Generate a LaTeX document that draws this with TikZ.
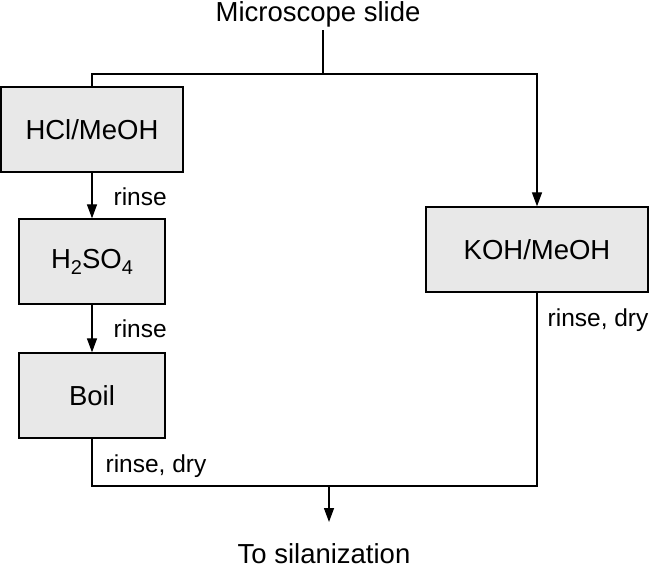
\documentclass[tikz,border=0pt]{standalone}
\usepackage{fontspec}
\setmainfont{Liberation Sans}
\usepackage{tikz}
\usetikzlibrary{arrows.meta}
\definecolor{boxgray}{gray}{0.91}
\newcommand{\chemsub}[1]{\raisebox{-6pt}{\fontsize{20}{20}\selectfont #1}}

\begin{document}
\begin{tikzpicture}[
                    x=1pt, y=1pt,
                    line width=1.3pt,
                    every node/.style={
                        inner sep=2pt,
                        font=\fontsize{27.5}{32}\selectfont
                    },
                    stepbox/.style={
                        draw,
                        fill=boxgray,
                        minimum height=85pt
                    },
                    steplabel/.style={
                        anchor=base west,
                        inner sep=0pt,
                        font=\fontsize{24.5}{29}\selectfont
                    },
                    arr/.style={-{Triangle[length=14pt,width=10pt]}}
                ]
                    \useasboundingbox (0,0) rectangle (650,568);

                    \node[anchor=base] (slide) at (318,546) {Microscope slide};
                    \node[stepbox, minimum width=182pt] (hcl) at (92,438.5) {HCl/MeOH};
                    \node[stepbox, minimum width=146pt] (acid) at (92,306.5) {H\chemsub{2}SO\chemsub{4}};
                    \node[stepbox, minimum width=146pt] (boil) at (92,172.5) {Boil};
                    \node[stepbox, minimum width=222pt] (koh) at (537,318.5) {KOH/MeOH};
                    \node[anchor=base, inner sep=0pt] (silane) at (324,5) {To silanization};

                    \coordinate (split) at (323,494);
                    \coordinate (merge) at (329,82);
                    \coordinate (outend) at (329,46);

                    % Labels
                    \node[steplabel] (rinsea) at (113,362) {rinse};
                    \node[steplabel] (rinseb) at (113,230) {rinse};
                    \node[steplabel] (rinsec) at (105,96) {rinse, dry};
                    \node[steplabel] (rinsed) at (547,241) {rinse, dry};

                    % Edges
                    \draw (split |- slide.south) -- (split);
                    \draw[arr] (hcl.north) |- (split) -| (koh.north);
                    \draw[arr] (hcl) -- (acid);
                    \draw[arr] (acid) -- (boil);
                    \draw (boil.south) |- (merge) -| (koh.south);
                    \draw[arr] (merge) -- (outend);
                \end{tikzpicture}
\end{document}
